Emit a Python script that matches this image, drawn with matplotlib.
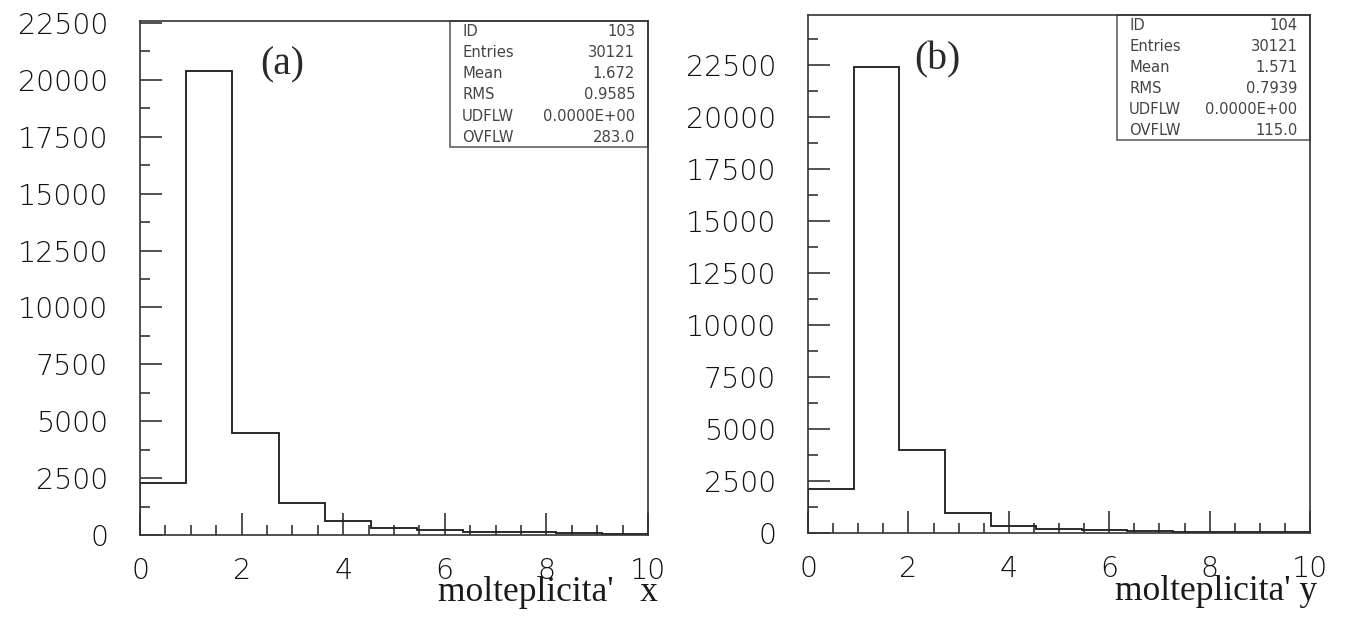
import numpy as np
import matplotlib
matplotlib.use("Agg")
import matplotlib.pyplot as plt
from matplotlib.patches import Rectangle
from matplotlib.ticker import MultipleLocator, FixedLocator

# Histogram binning: 11 equal bins over [0, 10]
x_range = (0.0, 10.0)
n_bins = 11

# Bin contents of the two multiplicity histograms
counts_x = [2300, 20400, 4500, 1400, 600, 320, 220, 150, 120, 80, 50]
counts_y = [2100, 22400, 4000, 980, 340, 200, 140, 100, 60, 40, 30]

panel_tags = ["(a)", "(b)"]
axis_titles = ["molteplicita'   x", "molteplicita' y"]

# Statistics boxes
stat_names = ["ID", "Entries", "Mean", "RMS", "UDFLW", "OVFLW"]
stats_x = ["103", "30121", "1.672", "0.9585", "0.0000E+00", "283.0"]
stats_y = ["104", "30121", "1.571", "0.7939", "0.0000E+00", "115.0"]

x_ticks = [0, 2, 4, 6, 8, 10]
y_ticks = [0, 2500, 5000, 7500, 10000, 12500, 15000, 17500, 20000, 22500]

W, H = 1348, 623
fig = plt.figure(figsize=(W / 100, H / 100), dpi=100)

LINE = "#1a1a1a"
TICK_FONT = dict(family="DejaVu Sans", weight=200, size=20.5, color="#111111")
SERIF = "Liberation Serif"


def px_axes(left, right, bottom, top):
    return fig.add_axes([left / W, 1 - bottom / H, (right - left) / W, (bottom - top) / H])


def draw_panel(ax, counts, ymax, tag, tag_xy, title, title_xy, names, values, box):
    edges = np.linspace(x_range[0], x_range[1], n_bins + 1)
    ax.stairs(counts, edges, baseline=0, color=LINE, lw=1.3)

    ax.set_xlim(*x_range)
    ax.set_ylim(0, ymax)

    ax.xaxis.set_major_locator(FixedLocator(x_ticks))
    ax.xaxis.set_minor_locator(MultipleLocator(0.5))
    ax.yaxis.set_major_locator(FixedLocator(y_ticks))
    ax.yaxis.set_minor_locator(MultipleLocator(1250))

    ax.tick_params(which="both", direction="in", top=False, right=False,
                   color="#222222", width=1.1)
    ax.tick_params(which="major", length=15.5)
    ax.tick_params(which="minor", length=7.5)
    ax.tick_params(axis="y", which="major", pad=23)
    ax.tick_params(axis="x", which="major", pad=16)

    ax.set_xticks(x_ticks, [str(t) for t in x_ticks], **TICK_FONT)
    ax.set_yticks(y_ticks, [str(t) for t in y_ticks], **TICK_FONT)

    for sp in ax.spines.values():
        sp.set_color("#333333")
        sp.set_linewidth(1.2)

    ax.text(*tag_xy, tag, transform=ax.transAxes, ha="center", va="center",
            family=SERIF, fontsize=28.5, color="#2a2a2a")

    ax.set_xlabel(title, family=SERIF, fontsize=25.5, color="#1a1a1a")
    ax.xaxis.label.set_ha("right")
    ax.xaxis.label.set_va("baseline")
    ax.xaxis.set_label_coords(*title_xy)

    x0, y0 = box
    ax.add_patch(Rectangle((x0, y0), 1 - x0, 1 - y0, transform=ax.transAxes,
                           fill=False, ec="#555555", lw=1.1, clip_on=False))
    h = 1 - y0
    for i, (n, v) in enumerate(zip(names, values)):
        yy = 1 - h * (0.08 + i * 0.169)
        ax.text(x0 + 0.024, yy, n, transform=ax.transAxes, ha="left", va="center",
                family="DejaVu Sans", fontsize=10.6, color="#444444")
        ax.text(0.975, yy, v, transform=ax.transAxes, ha="right", va="center",
                family="DejaVu Sans", fontsize=10.6, color="#444444")


ax_a = px_axes(140, 648, 535, 21)
draw_panel(ax_a, counts_x, 22590, panel_tags[0], (0.28, 0.914),
           axis_titles[0], (1.02, -0.128), stat_names, stats_x, (0.61, 0.755))

ax_b = px_axes(808, 1310, 533, 15)
draw_panel(ax_b, counts_y, 24900, panel_tags[1], (0.257, 0.913),
           axis_titles[1], (1.014, -0.13), stat_names, stats_y, (0.6155, 0.758))

fig.savefig("out.png", dpi=100)
